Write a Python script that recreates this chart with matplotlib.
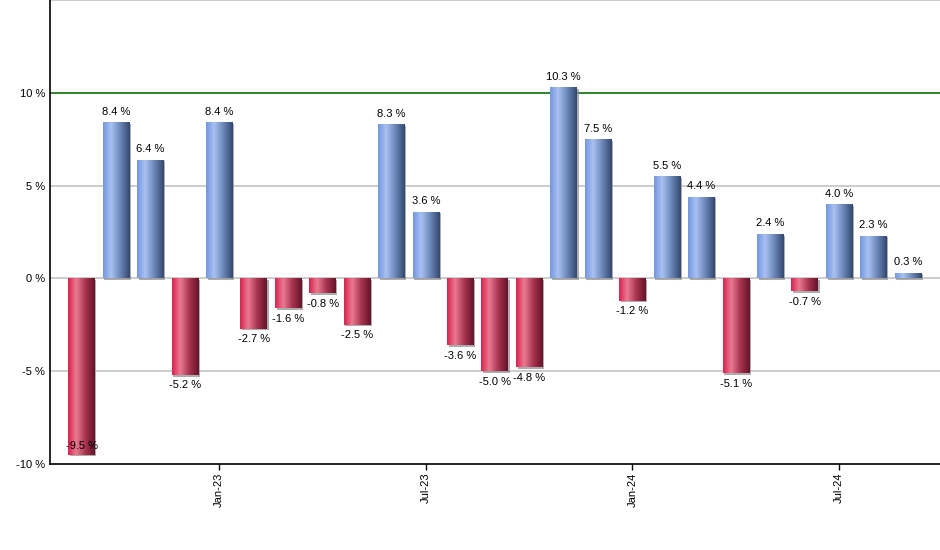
import numpy as np
import matplotlib
matplotlib.use("Agg")
import matplotlib.pyplot as plt
from matplotlib.colors import LinearSegmentedColormap
import matplotlib.patheffects as pe

months = ["Sep-22", "Oct-22", "Nov-22", "Dec-22", "Jan-23", "Feb-23", "Mar-23", "Apr-23",
          "May-23", "Jun-23", "Jul-23", "Aug-23", "Sep-23", "Oct-23", "Nov-23", "Dec-23",
          "Jan-24", "Feb-24", "Mar-24", "Apr-24", "May-24", "Jun-24", "Jul-24", "Aug-24", "Sep-24"]
returns = [-9.5, 8.4, 6.4, -5.2, 8.4, -2.7, -1.6, -0.8, -2.5, 8.3, 3.6, -3.6, -5.0, -4.8,
           10.3, 7.5, -1.2, 5.5, 4.4, -5.1, 2.4, -0.7, 4.0, 2.3, 0.3]
tick_labels = ["Jan-23", "Jul-23", "Jan-24", "Jul-24"]
y_ticks = [-10, -5, 0, 5, 10]

plt.rcParams['font.family'] = ['Liberation Sans', 'DejaVu Sans']

fig = plt.figure(figsize=(9.4, 5.5), dpi=100)
ax = fig.add_axes([49.5 / 940, 86 / 550, 1 - 49.5 / 940, 1 - 86 / 550])

blue_cmap = LinearSegmentedColormap.from_list(
    "blue", [(0, "#7398e0"), (0.3, "#a9c1f2"), (0.65, "#6a86b8"), (1, "#34486e")])
red_cmap = LinearSegmentedColormap.from_list(
    "red", [(0, "#d9234c"), (0.3, "#ea7a92"), (0.65, "#a8344f"), (1, "#64142a")])
grad = np.linspace(0, 1, 64).reshape(1, -1)

x = np.arange(len(returns))
width = 0.77
bars = ax.bar(x, returns, width, color="white", edgecolor="none", zorder=2,
              path_effects=[pe.SimplePatchShadow(offset=(1.2, -1.2), shadow_rgbFace="#8a8a8a", alpha=0.7),
                            pe.Normal()])

for b, v in zip(bars, returns):
    x0 = b.get_x()
    x1 = x0 + b.get_width()
    cmap = blue_cmap if v >= 0 else red_cmap
    im = ax.imshow(grad, extent=[x0, x1, 0, v], aspect="auto", cmap=cmap,
                   zorder=3, interpolation="bilinear")
    im.set_clip_path(b)
    xc = x0 + b.get_width() / 2
    label = f"{v:.1f} %"
    if v >= 0:
        ax.annotate(label, (xc, v), xytext=(0, 4), textcoords="offset points",
                    ha="center", va="bottom", fontsize=8, zorder=5)
    elif v < -9:
        ax.annotate(label, (xc, -10), xytext=(0, 13), textcoords="offset points",
                    ha="center", va="center", fontsize=8, zorder=5)
    else:
        ax.annotate(label, (xc, v), xytext=(0, -4), textcoords="offset points",
                    ha="center", va="top", fontsize=8, zorder=5)

ax.set_xlim(-0.93, len(returns) - 1 + 0.93)
ax.set_ylim(-10, 15)

for yv in [-5, 0, 5, 15]:
    ax.axhline(yv, color="#c4c4c4", lw=1.2, zorder=1)
ax.axhline(10, color="#0a6e0a", lw=1.2, zorder=1)

ax.set_yticks(y_ticks)
ax.set_yticklabels([f"{t} %" for t in y_ticks], fontsize=8)
ax.tick_params(axis="y", length=0, pad=3)

tick_pos = [months.index(t) for t in tick_labels]
ax.set_xticks(tick_pos)
ax.set_xticklabels(tick_labels, rotation=90, fontsize=8)
ax.tick_params(axis="x", length=4, width=1, direction="out", pad=2)

for s in ["top", "right"]:
    ax.spines[s].set_visible(False)
ax.spines["left"].set_linewidth(1.2)
ax.spines["bottom"].set_linewidth(1.2)

fig.savefig("out.png", dpi=100)
